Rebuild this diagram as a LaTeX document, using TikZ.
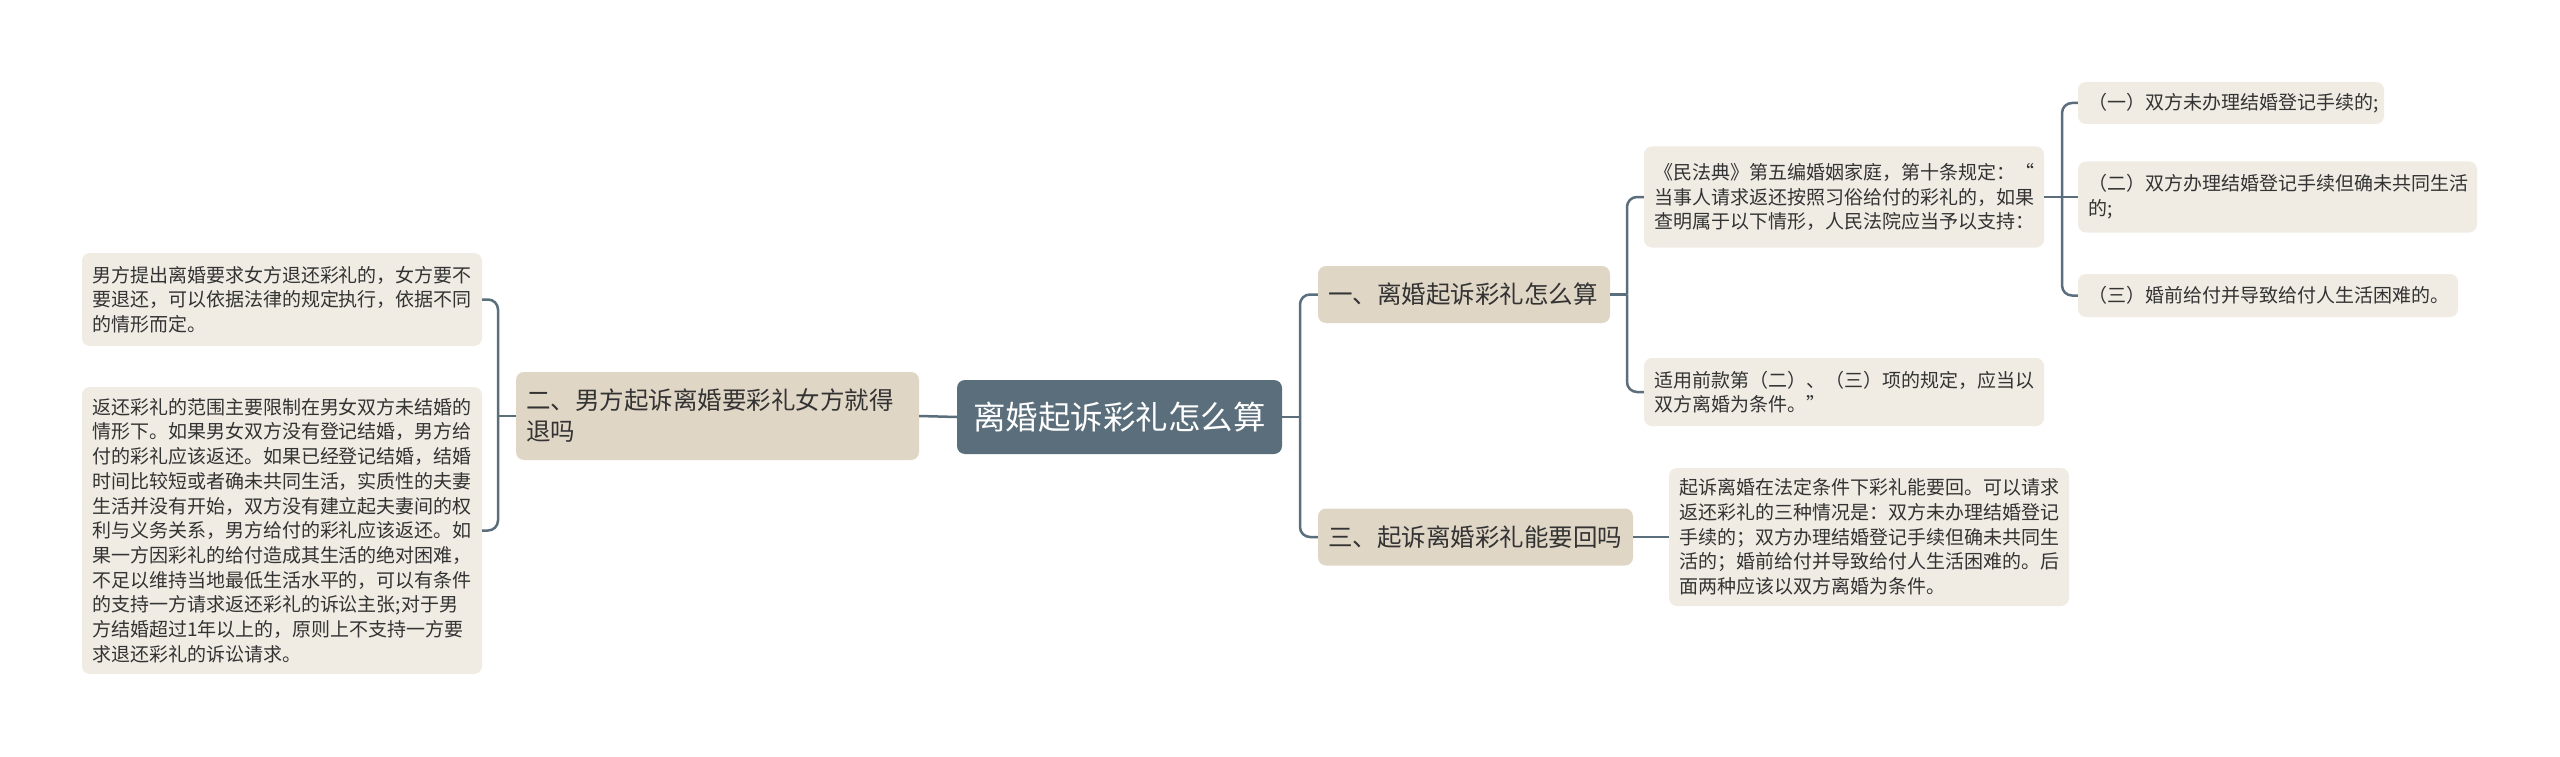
\documentclass[tikz,border=0pt]{standalone}
\usepackage{fontspec}
\newfontfamily\cjk{Noto Sans CJK SC}
\definecolor{rootc}{HTML}{5B6E7B}
\definecolor{lvone}{HTML}{E0D6C6}
\definecolor{leafc}{HTML}{F0ECE4}
\definecolor{linec}{HTML}{5B6E7B}
\definecolor{txt}{HTML}{333333}
\begin{document}
\begin{tikzpicture}[x=1pt,y=-1pt,
 base/.style={rounded corners=8pt, inner xsep=10pt, inner ysep=0pt, align=left, anchor=center},
 rootbox/.style={base, fill=rootc, text=white, font=\cjk\fontsize{32.5}{40}\selectfont, align=center},
 lvbox/.style={base, fill=lvone, text=txt, font=\cjk\fontsize{24.5}{31}\selectfont},
 leafbox/.style={base, fill=leafc, text=txt, font=\cjk\fontsize{19}{24.7}\selectfont},
 conn/.style={draw=linec, line width=2.5pt, rounded corners=10pt}]
\useasboundingbox[fill=white] (0,0) rectangle (2560,757);

% nodes
\node[rootbox, minimum width=325pt, minimum height=74pt] (root) at (1119.5,417) {离婚起诉彩礼怎么算};

\node[lvbox, text width=383pt, minimum height=88pt] (L2) at (717.5,416) {二、男方起诉离婚要彩礼女方就得\\退吗};
\node[lvbox, text width=272pt, minimum height=57pt] (R1) at (1464,294.5) {一、离婚起诉彩礼怎么算};
\node[lvbox, text width=295pt, minimum height=57pt] (R3) at (1475.5,537) {三、起诉离婚彩礼能要回吗};

\node[leafbox, text width=380pt, minimum height=93pt] (LA) at (282,299.5) {男方提出离婚要求女方退还彩礼的，女方要不\\要退还，可以依据法律的规定执行，依据不同\\的情形而定。};
\node[leafbox, text width=380pt, minimum height=287pt] (LB) at (282,530.5) {返还彩礼的范围主要限制在男女双方未结婚的\\情形下。如果男女双方没有登记结婚，男方给\\付的彩礼应该返还。如果已经登记结婚，结婚\\时间比较短或者确未共同生活，实质性的夫妻\\生活并没有开始，双方没有建立起夫妻间的权\\利与义务关系，男方给付的彩礼应该返还。如\\果一方因彩礼的给付造成其生活的绝对困难，\\不足以维持当地最低生活水平的，可以有条件\\的支持一方请求返还彩礼的诉讼主张;对于男\\方结婚超过1年以上的，原则上不支持一方要\\求退还彩礼的诉讼请求。};

\node[leafbox, text width=380pt, minimum height=101pt] (R1a) at (1844,197) {《民法典》第五编婚姻家庭，第十条规定：“\\当事人请求返还按照习俗给付的彩礼的，如果\\查明属于以下情形，人民法院应当予以支持：};
\node[leafbox, text width=380pt, minimum height=68pt] (R1b) at (1844,392) {适用前款第（二）、（三）项的规定，应当以\\双方离婚为条件。”};

\node[leafbox, text width=286pt, minimum height=42pt] (C1) at (2231,103) {（一）双方未办理结婚登记手续的;};
\node[leafbox, text width=379pt, minimum height=71pt] (C2) at (2277.5,197) {（二）双方办理结婚登记手续但确未共同生活\\的;};
\node[leafbox, text width=360pt, minimum height=43pt] (C3) at (2268,295.5) {（三）婚前给付并导致给付人生活困难的。};

\node[leafbox, text width=380pt, minimum height=138pt] (R3a) at (1869,537) {起诉离婚在法定条件下彩礼能要回。可以请求\\返还彩礼的三种情况是：双方未办理结婚登记\\手续的；双方办理结婚登记手续但确未共同生\\活的；婚前给付并导致给付人生活困难的。后\\面两种应该以双方离婚为条件。};

% bus points
\coordinate (bL) at (498,416);
\coordinate (bR) at (1300,417);
\coordinate (b1) at (1627,294.5);
\coordinate (b1a) at (2062,197);

% connectors
\draw[conn] (root.west) -- (L2.east);
\draw[conn] (L2.west) -- (bL);
\draw[conn] (bL) |- (LA.east);
\draw[conn] (bL) |- (LB.east);

\draw[conn] (root.east) -- (bR);
\draw[conn] (bR) |- (R1.west);
\draw[conn] (bR) |- (R3.west);

\draw[conn] (R1.east) -- (b1);
\draw[conn] (b1) |- (R1a.west);
\draw[conn] (b1) |- (R1b.west);

\draw[conn] (R1a.east) -- (b1a);
\draw[conn] (b1a) |- (C1.west);
\draw[conn] (b1a) -- (C2.west);
\draw[conn] (b1a) |- (C3.west);

\draw[conn] (R3.east) -- (R3a.west);
\end{tikzpicture}
\end{document}
